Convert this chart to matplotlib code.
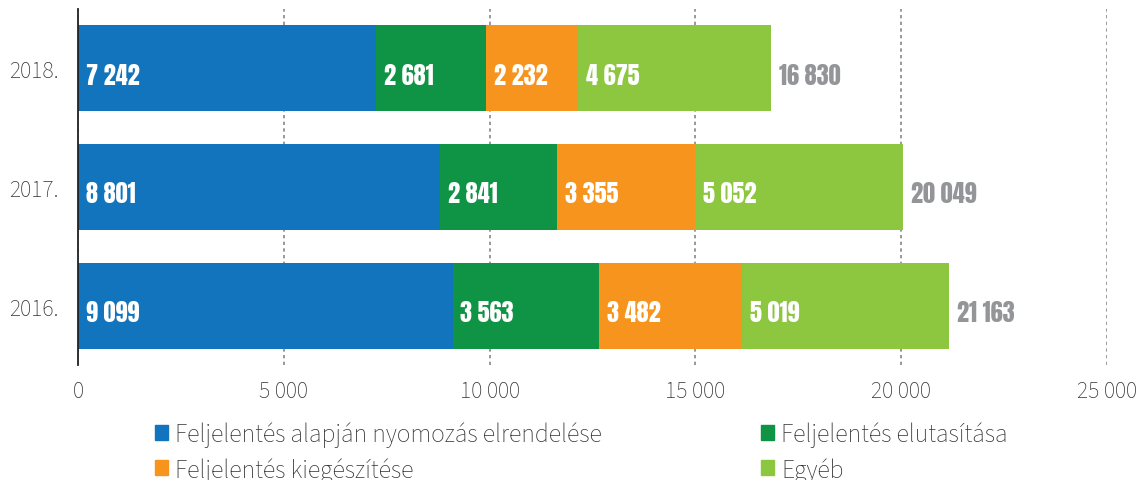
import matplotlib
matplotlib.use("Agg")
import matplotlib.pyplot as plt
from matplotlib.patches import Patch
import numpy as np

years = ["2016.", "2017.", "2018."]
series_names = ["Feljelentés alapján nyomozás elrendelése",
                "Feljelentés elutasítása",
                "Feljelentés kiegészítése",
                "Egyéb"]
nyomozas = [9099, 8801, 7242]
elutasitas = [3563, 2841, 2681]
kiegeszites = [3482, 3355, 2232]
egyeb = [5019, 5052, 4675]
totals = [21163, 20049, 16830]
xticks = [0, 5000, 10000, 15000, 20000, 25000]
xtick_labels = ["0", "5 000", "10 000", "15 000", "20 000", "25 000"]

colors = ["#1174BC", "#0E9444", "#F7941D", "#8DC63F"]
LIGHT = {"family": ["Source Sans 3", "Roboto", "DejaVu Sans"], "weight": 300}
BOLDC = {"family": ["Anton", "DejaVu Sans"], "weight": "normal"}

def fmt(v):
    return f"{v:,}".replace(",", " ")

fig = plt.figure(figsize=(11.42, 4.81), dpi=100)
ax = fig.add_axes([78/1142, 1-366/481, (1107-78)/1142, (366-10)/481])

y = np.arange(len(years))
series = [nyomozas, elutasitas, kiegeszites, egyeb]
left = np.zeros(len(years))
for vals, c in zip(series, colors):
    vals = np.array(vals)
    ax.barh(y, vals, left=left, height=0.726, color=c, zorder=3)
    for yi, (l, v) in enumerate(zip(left, vals)):
        ax.text(l + 190, yi - 0.04, fmt(v), color="white", fontsize=17.5,
                va="center_baseline", ha="left", zorder=4, **BOLDC)
    left = left + vals

for yi, t in enumerate(totals):
    ax.text(t + 190, yi - 0.04, fmt(t), color="#939598", fontsize=17.5,
            va="center_baseline", ha="left", zorder=4, **BOLDC)

ax.set_xlim(0, 25000)
ax.set_ylim(-0.5, 2.5)
ax.set_yticks(y)
ax.set_yticklabels(years, fontsize=17, color="#333333", **LIGHT)
ax.set_xticks(xticks)
ax.set_xticklabels(xtick_labels, fontsize=17, color="#333333", **LIGHT)
ax.tick_params(axis="both", length=0)
ax.tick_params(axis="x", pad=10)
ax.tick_params(axis="y", pad=14)
for s in ["top", "right", "bottom"]:
    ax.spines[s].set_visible(False)
ax.spines["left"].set_color("#222222")
ax.spines["left"].set_linewidth(1.3)
ax.spines["left"].set_zorder(5)
ax.xaxis.grid(True, linestyle=(0, (2, 2)), color="#888888", linewidth=1.2, zorder=0)
ax.set_axisbelow(True)

handles = [Patch(color=colors[0]), Patch(color=colors[2]),
           Patch(color=colors[1]), Patch(color=colors[3])]
labels = [series_names[0], series_names[2], series_names[1], series_names[3]]
fig.legend(handles, labels, ncol=2, loc="upper left",
           bbox_to_anchor=(155/1142, 1-423/481), frameon=False,
           prop={**LIGHT, "size": 18.5},
           handlelength=0.5, handleheight=0.5, handletextpad=0.28,
           columnspacing=6.2, labelspacing=0.38, labelcolor="#333333",
           borderpad=0, borderaxespad=0)

fig.savefig("out.png", dpi=100)
